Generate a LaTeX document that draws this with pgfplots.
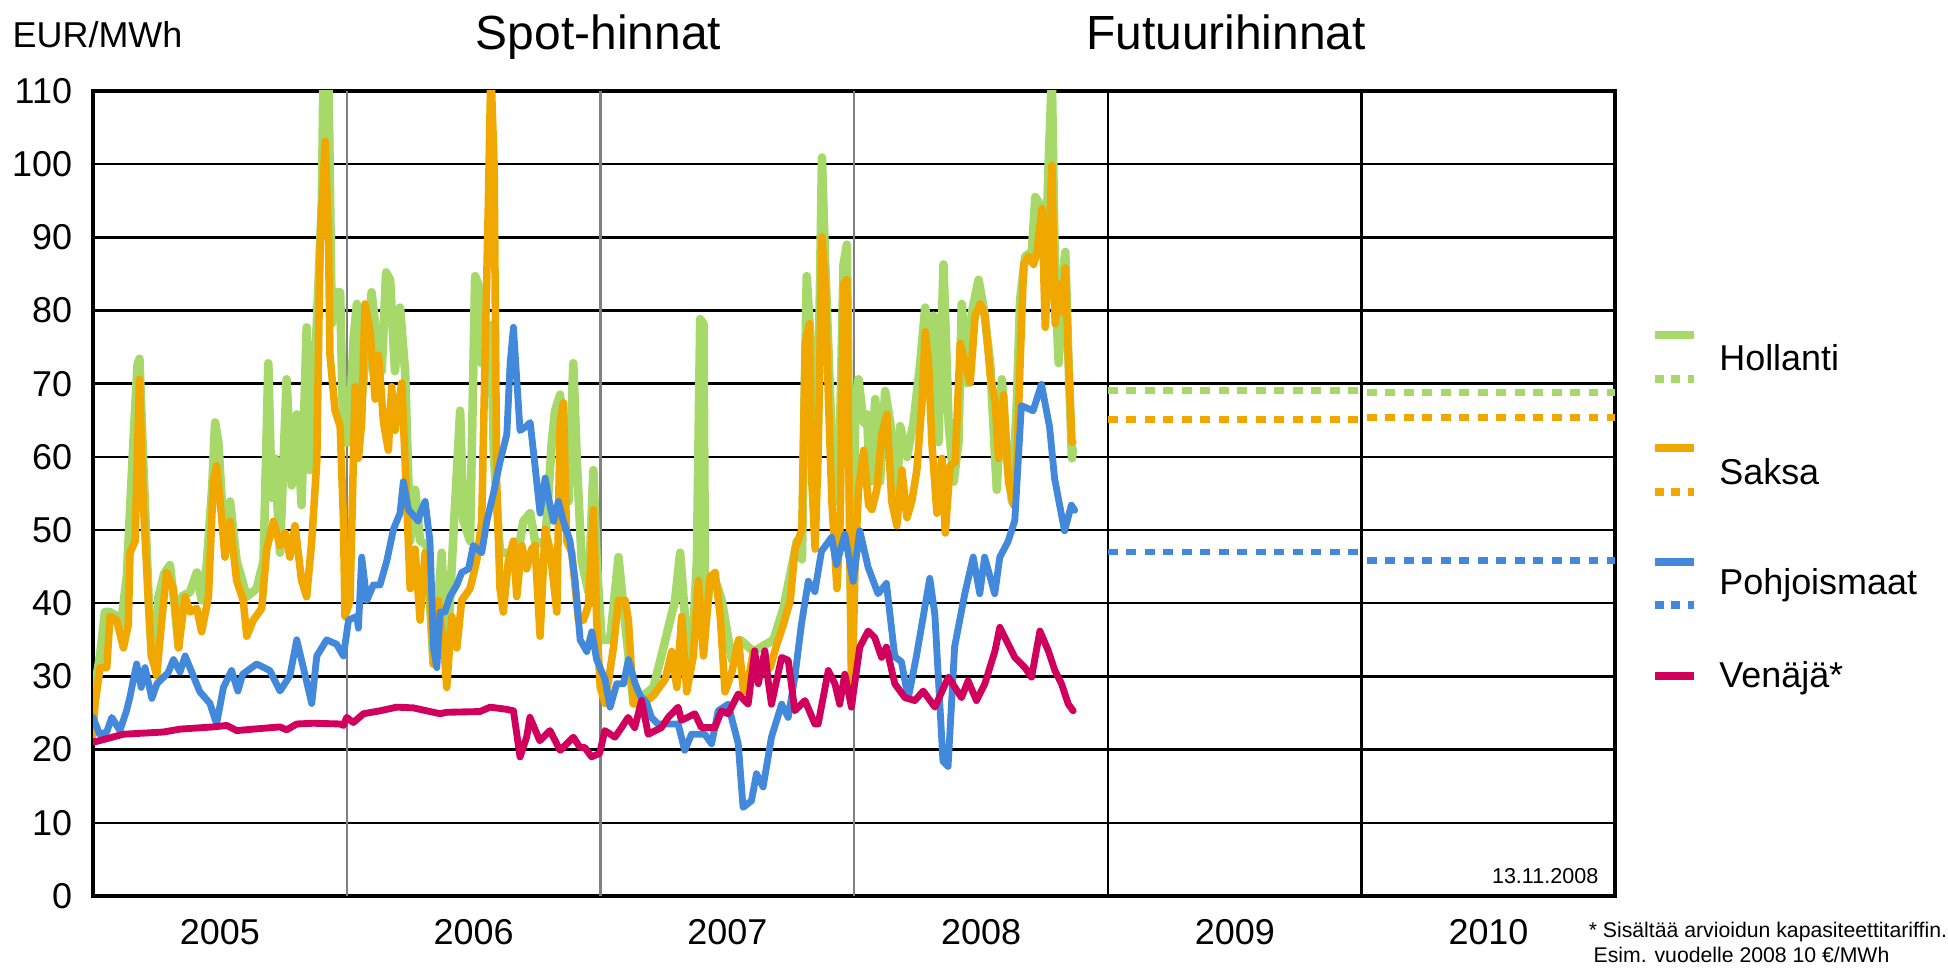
\documentclass[border=0pt]{standalone}
\usepackage{fontspec}
\setmainfont{Liberation Sans}
\usepackage{pgfplots}
\pgfplotsset{compat=1.18}

\definecolor{hol}{RGB}{166,217,106}
\definecolor{sak}{RGB}{240,168,0}
\definecolor{poh}{RGB}{66,137,220}
\definecolor{ven}{RGB}{208,0,92}
\definecolor{vgray}{RGB}{128,128,128}

\tikzset{spot/.style={line width=2pt, line join=round, line cap=round},
         fut/.style={line width=2pt, dash pattern=on 2.9pt off 2.5pt},
         legline/.style={line width=2.4pt},
         legdot/.style={line width=2.4pt, dash pattern=on 2.45pt off 2.25pt},
         legtxt/.style={anchor=base west, inner sep=0pt, font=\fontsize{10.5}{12}\selectfont}}

\begin{document}
\begin{tikzpicture}
\useasboundingbox (-0.955,-0.801) rectangle (19.045,9.199);
\begin{axis}[
    at={(0,0)}, anchor=south west, scale only axis,
    width=15.63cm, height=8.265cm,
    xmin=0, xmax=6, ymin=0, ymax=110,
    ytick={0,10,...,110},
    xtick={0.5,1.5,2.5,3.5,4.5,5.5},
    xticklabels={2005,2006,2007,2008,2009,2010},
    ymajorgrids,
    major grid style={black, line width=0.7pt},
    major tick length=0pt,
    axis line style={line width=1.2pt},
    tick label style={font=\fontsize{10.5}{12}\selectfont},
    /pgf/number format/assume math mode=true,
    xticklabel style={yshift=-3.2pt},
    yticklabel style={xshift=-2.6pt},
]
% year separators
\draw[vgray, line width=0.7pt] (axis cs:1,0) -- (axis cs:1,110);
\draw[vgray, line width=0.7pt] (axis cs:2,0) -- (axis cs:2,110);
\draw[vgray, line width=0.7pt] (axis cs:3,0) -- (axis cs:3,110);
\draw[black, line width=0.7pt] (axis cs:4,0) -- (axis cs:4,110);
\draw[black, line width=0.7pt] (axis cs:5,0) -- (axis cs:5,110);

% Hollanti spot
\addplot[hol, spot, line width=2.5pt] coordinates {
(0.000,24) (0.008,28.5) (0.028,33) (0.047,38.8) (0.067,38.8) (0.080,38.5) (0.100,38.2)
(0.110,37) (0.133,43.6) (0.159,62) (0.175,72.5) (0.183,73.4) (0.198,59.3) (0.220,40)
(0.231,32.8) (0.250,31) (0.258,40.9) (0.280,44) (0.303,45.2) (0.323,39.3) (0.337,34)
(0.353,41) (0.382,41.5) (0.409,44.2) (0.428,40.4) (0.448,45.2) (0.470,56) (0.481,64.7)
(0.494,62) (0.514,50.1) (0.540,53.9) (0.566,45.8) (0.606,40.9) (0.645,42) (0.672,45.8)
(0.691,72.8) (0.704,54.4) (0.717,59.8) (0.737,46.9) (0.763,70.6) (0.783,56.1) (0.803,65.8)
(0.822,53.4) (0.842,77.7) (0.855,58.2) (0.882,78.2) (0.902,95) (0.908,112) (0.928,112)
(0.941,78.2) (0.960,82.5) (0.974,82.5) (0.987,62) (1.007,62) (1.027,76.1) (1.040,80.9)
(1.053,65.2) (1.072,72.8) (1.098,82.5) (1.118,76.1) (1.138,71.7) (1.155,85.2) (1.171,84.2)
(1.190,71.7) (1.210,80.4) (1.230,71.7) (1.250,48.5) (1.270,55.5) (1.289,48.5) (1.315,48)
(1.342,31.7) (1.361,40.4) (1.374,46.9) (1.394,31.2) (1.414,45.2) (1.447,66.3) (1.460,51.2)
(1.486,48.5) (1.506,84.7) (1.519,83.6) (1.532,72.8) (1.545,73.4) (1.558,70) (1.568,78)
(1.580,60) (1.604,46.9) (1.631,46.9) (1.670,45.8) (1.696,51.2) (1.723,52.3) (1.742,48.5)
(1.782,48) (1.808,62) (1.821,66.3) (1.841,68.5) (1.854,56.6) (1.874,53.9) (1.893,72.8)
(1.907,59.3) (1.926,45.8) (1.953,41.5) (1.972,58.2) (1.985,45.8) (2.005,35) (2.038,35)
(2.071,46.3) (2.091,39.3) (2.130,26.3) (2.209,28.5) (2.248,33.9) (2.294,40.4) (2.314,46.9)
(2.334,37.7) (2.360,32.3) (2.380,45.8) (2.393,78.8) (2.406,78.2) (2.413,37.1) (2.432,43.1)
(2.459,42.5) (2.478,40.4) (2.518,32.3) (2.551,35) (2.603,33.4) (2.682,35) (2.721,39.3)
(2.774,48.5) (2.794,46) (2.813,84.7) (2.833,72.8) (2.853,56.6) (2.873,100.9) (2.886,86.3)
(2.912,62) (2.938,53.9) (2.958,86.3) (2.971,89) (2.984,51.2) (2.991,30) (3.004,67.4)
(3.017,70.6) (3.037,64.7) (3.050,65.8) (3.063,56.6) (3.083,67.9) (3.102,56.6) (3.122,69)
(3.142,64.7) (3.168,53.9) (3.181,64.2) (3.208,60) (3.234,64.7) (3.260,72.8) (3.280,80.4)
(3.300,72.8) (3.313,79.3) (3.332,62) (3.352,86.3) (3.372,64.7) (3.392,56.6) (3.411,62)
(3.424,80.9) (3.444,70.1) (3.464,79.8) (3.490,84.2) (3.510,80.4) (3.536,72.8) (3.562,55.5)
(3.582,70.6) (3.602,59.8) (3.622,53.9) (3.641,67.4) (3.654,81.5) (3.674,87.4) (3.700,88)
(3.714,95.5) (3.733,94.4) (3.753,85.2) (3.766,99.8) (3.779,112) (3.792,83.6) (3.806,72.8)
(3.819,83.6) (3.832,88) (3.845,72.8) (3.858,59.8) (3.862,61)
};

% Saksa spot
\addplot[sak, spot, line width=2.2pt] coordinates {
(0.000,22) (0.008,26.3) (0.028,31.2) (0.054,31.2) (0.067,38.2) (0.093,37.7) (0.120,33.9)
(0.139,37.1) (0.146,46.9) (0.166,48.5) (0.183,70.6) (0.198,53.9) (0.218,40.4) (0.231,32.8)
(0.251,30.1) (0.271,37.7) (0.290,44.2) (0.317,42) (0.337,33.9) (0.363,40.9) (0.382,38.8)
(0.409,39.3) (0.428,36.1) (0.455,40.9) (0.474,56.6) (0.487,58.8) (0.507,51.7) (0.520,46.3)
(0.540,51.2) (0.566,43.1) (0.592,40.4) (0.606,35.5) (0.632,37.7) (0.665,39.3) (0.685,47.4)
(0.711,51.2) (0.737,47.9) (0.757,49.6) (0.776,46.3) (0.796,50.6) (0.822,43.1) (0.842,40.9)
(0.862,48.5) (0.882,59.3) (0.895,89) (0.915,103.1) (0.928,90.1) (0.934,73.9) (0.954,66.3)
(0.974,64.2) (0.987,51.2) (0.993,38.2) (1.013,40.4) (1.033,69.6) (1.046,59.8) (1.059,64.7)
(1.072,80.9) (1.092,77.1) (1.112,67.9) (1.125,73.9) (1.145,64.7) (1.164,60.9) (1.177,69.6)
(1.190,63.6) (1.217,70.1) (1.230,59.3) (1.250,42) (1.269,47.4) (1.289,37.7) (1.309,46.9)
(1.328,41.5) (1.342,31.7) (1.361,40.4) (1.381,35) (1.394,28.5) (1.414,38.2) (1.434,33.9)
(1.453,40.4) (1.486,42) (1.512,45.8) (1.532,51.2) (1.545,73.4) (1.558,94.4) (1.568,113)
(1.581,99.8) (1.591,56.6) (1.604,42) (1.617,38.8) (1.637,45.8) (1.657,48.5) (1.670,40.9)
(1.690,47.9) (1.709,44.7) (1.729,47.4) (1.742,47.9) (1.762,35.5) (1.782,50.1) (1.801,47.4)
(1.828,38.8) (1.841,64.7) (1.854,67.4) (1.867,48.5) (1.887,46.9) (1.913,37.7) (1.933,37.7)
(1.953,39.8) (1.972,52.8) (1.985,37.7) (1.999,28.5) (2.018,26.3) (2.051,33.9) (2.071,40.4)
(2.097,40.4) (2.110,37.7) (2.130,26.3) (2.169,26.3) (2.209,27.4) (2.255,29.6) (2.281,33.4)
(2.301,28.5) (2.320,38.2) (2.340,27.9) (2.366,32.8) (2.386,43.1) (2.406,32.8) (2.432,43.6)
(2.452,44.2) (2.472,38.2) (2.491,27.9) (2.518,30.6) (2.544,35) (2.564,27.9) (2.583,29.6)
(2.603,33.4) (2.629,30.6) (2.669,31.2) (2.695,34.4) (2.721,37.1) (2.748,40.4) (2.767,47.4)
(2.794,50.1) (2.807,75.5) (2.824,78.2) (2.833,56.6) (2.846,47.4) (2.859,62) (2.873,90.1)
(2.886,83.6) (2.899,67.4) (2.912,53.9) (2.932,42) (2.945,51.2) (2.958,83.6) (2.971,84.2)
(2.984,43.1) (2.991,26.3) (3.004,45.8) (3.017,55.5) (3.037,60.9) (3.057,53.4) (3.070,52.8)
(3.089,55.5) (3.109,63.1) (3.129,65.8) (3.148,53.9) (3.168,50.6) (3.188,58.2) (3.208,51.7)
(3.227,53.9) (3.247,58.2) (3.267,67.4) (3.280,77.1) (3.293,72.8) (3.306,62) (3.326,52.3)
(3.346,59.8) (3.359,49.6) (3.378,58.8) (3.398,59.3) (3.418,75.5) (3.438,72.8) (3.457,70.1)
(3.477,79.3) (3.497,80.9) (3.516,79.3) (3.536,71.2) (3.556,67.4) (3.569,59.8) (3.589,68.5)
(3.608,56.6) (3.628,53.4) (3.641,59.3) (3.654,72.8) (3.668,86.3) (3.687,87.4) (3.707,86.3)
(3.720,87.9) (3.740,93.9) (3.753,77.7) (3.766,86.3) (3.779,99.8) (3.792,78.2) (3.806,83.6)
(3.819,79.8) (3.832,85.8) (3.845,72.8) (3.858,62) (3.862,62)
};

% Pohjoismaat spot
\addplot[poh, spot] coordinates {
(0.000,24.4) (0.026,22.1) (0.054,22.4) (0.074,24.4) (0.106,22.6) (0.132,25.3) (0.145,27.1)
(0.172,31.7) (0.190,28.5) (0.205,31.2) (0.232,27) (0.252,29) (0.296,30.5) (0.317,32.3)
(0.343,30.6) (0.363,32.8) (0.382,31.2) (0.421,27.9) (0.461,26.3) (0.487,23.5) (0.514,28.5)
(0.546,30.8) (0.571,28) (0.590,30.3) (0.645,31.7) (0.697,30.8) (0.737,28) (0.776,30.1)
(0.803,35) (0.829,31.2) (0.862,26.3) (0.882,32.8) (0.921,35) (0.960,34.4) (0.987,32.8)
(1.007,37.7) (1.040,38.2) (1.046,36.6) (1.059,46.3) (1.079,40.4) (1.105,42.5) (1.131,42.5)
(1.158,45.8) (1.184,50.1) (1.210,52.3) (1.223,56.6) (1.243,52.8) (1.282,51.2) (1.289,52.3)
(1.309,53.9) (1.328,48.5) (1.342,33.9) (1.355,31.2) (1.368,38.8) (1.387,38.8) (1.407,40.9)
(1.434,42.5) (1.453,44.2) (1.480,44.7) (1.499,47.9) (1.532,46.9) (1.552,51.2) (1.578,55)
(1.604,59.3) (1.631,63.1) (1.644,72.8) (1.657,77.7) (1.670,70.6) (1.683,63.6) (1.709,64.2)
(1.723,64.7) (1.742,58.8) (1.762,52.3) (1.782,57.1) (1.801,53.4) (1.815,51.2) (1.834,53.9)
(1.854,51.2) (1.880,48.5) (1.900,43.1) (1.920,35) (1.946,33.4) (1.966,36.1) (1.985,32.3)
(2.018,29.6) (2.038,25.8) (2.064,29) (2.091,29) (2.110,32.3) (2.137,29) (2.156,27.4)
(2.183,26.3) (2.201,24.4) (2.227,23.5) (2.306,23.5) (2.332,19.9) (2.359,22.1) (2.411,22.1)
(2.438,20.8) (2.464,25.3) (2.503,26.2) (2.543,20.8) (2.562,12.1) (2.595,13) (2.615,16.7)
(2.641,14.9) (2.674,21.7) (2.714,26.2) (2.740,24.4) (2.766,29.9) (2.792,37.1) (2.819,43)
(2.845,41.6) (2.871,47.1) (2.911,49) (2.930,45.3) (2.963,49.4) (2.996,43) (3.022,49.9)
(3.055,44.9) (3.094,41.3) (3.127,42.7) (3.160,32.7) (3.186,32) (3.213,27) (3.245,32.7)
(3.298,43.4) (3.318,38.4) (3.350,18.4) (3.370,17.7) (3.396,34.1) (3.436,41.3) (3.469,46.3)
(3.495,41.3) (3.514,46.3) (3.554,41.3) (3.574,46.3) (3.606,48.4) (3.633,51.3) (3.659,67)
(3.705,66.3) (3.738,69.9) (3.770,64.1) (3.790,57) (3.829,49.9) (3.856,53.4) (3.869,52.7)
};

% Venaja spot
\addplot[ven, spot] coordinates {
(0.001,21) (0.120,22.1) (0.277,22.4) (0.343,22.8) (0.474,23.1) (0.527,23.3) (0.566,22.6)
(0.632,22.8) (0.737,23.1) (0.763,22.7) (0.803,23.5) (0.868,23.6) (0.974,23.5) (0.987,23.3)
(1.000,24.4) (1.026,23.7) (1.066,24.9) (1.131,25.3) (1.197,25.8) (1.263,25.7) (1.315,25.3)
(1.368,24.9) (1.394,25.1) (1.525,25.2) (1.565,25.8) (1.631,25.5) (1.657,25.3) (1.683,19)
(1.709,21.7) (1.722,24.4) (1.761,21.2) (1.801,22.6) (1.841,19.9) (1.893,21.7) (1.919,20.3)
(1.938,20.3) (1.965,19) (1.997,19.5) (2.017,22.6) (2.057,21.7) (2.083,23) (2.109,24.4)
(2.135,23) (2.162,26.7) (2.188,22.1) (2.240,23) (2.267,24.4) (2.306,25.8) (2.319,24)
(2.372,24.9) (2.398,23) (2.451,23) (2.477,25.3) (2.503,24.9) (2.543,27.6) (2.582,26.2)
(2.608,33.5) (2.622,29) (2.648,33.5) (2.661,29.4) (2.674,26.2) (2.714,32.6) (2.740,32.2)
(2.766,25.3) (2.806,26.7) (2.845,23.5) (2.858,23.5) (2.898,30.8) (2.924,29) (2.943,26.2)
(2.963,30.3) (2.989,25.8) (3.022,34) (3.055,36.2) (3.081,35.3) (3.108,32.6) (3.127,34)
(3.160,29) (3.200,27.1) (3.239,26.7) (3.272,28) (3.318,25.8) (3.371,29.9) (3.423,27.1)
(3.449,29.4) (3.482,26.7) (3.515,29) (3.555,33.5) (3.574,36.7) (3.607,34.4) (3.633,32.6)
(3.673,31.2) (3.699,29.9) (3.732,36.2) (3.765,33.5) (3.791,30.8) (3.817,29) (3.844,26.2)
(3.863,25.3)
};

% futures
\addplot[hol, fut] coordinates {(4,69.1) (5,69.1)};
\addplot[hol, fut] coordinates {(5.02,68.8) (6,68.8)};
\addplot[sak, fut] coordinates {(4,65.1) (5,65.1)};
\addplot[sak, fut] coordinates {(5.02,65.4) (6,65.4)};
\addplot[poh, fut] coordinates {(4,47) (5,47)};
\addplot[poh, fut] coordinates {(5.02,45.8) (6,45.8)};
\end{axis}

\node[anchor=base west, inner sep=0pt, font=\fontsize{10.5}{12}\selectfont] at (-0.832,8.706) {EUR/MWh};
\node[anchor=base, inner sep=0pt, font=\fontsize{14}{16}\selectfont] at (5.19,8.686) {Spot-hinnat};
\node[anchor=base, inner sep=0pt, font=\fontsize{14}{16}\selectfont] at (11.632,8.686) {Futuurihinnat};

% legend
\draw[hol, legline] (16.04,5.760) -- (16.44,5.760);
\draw[hol, legdot] (16.04,5.308) -- (16.44,5.308);
\node[legtxt] at (16.69,5.39) {Hollanti};
\draw[sak, legline] (16.04,4.600) -- (16.44,4.600);
\draw[sak, legdot] (16.04,4.148) -- (16.44,4.148);
\node[legtxt] at (16.69,4.22) {Saksa};
\draw[poh, legline] (16.04,3.429) -- (16.44,3.429);
\draw[poh, legdot] (16.04,2.988) -- (16.44,2.988);
\node[legtxt] at (16.69,3.09) {Pohjoismaat};
\draw[ven, legline] (16.04,2.259) -- (16.44,2.259);
\node[legtxt] at (16.69,2.14) {Venäjä*};

\node[anchor=base east, inner sep=0pt, font=\fontsize{6.3}{7}\selectfont] at (15.462,0.133) {13.11.2008};
\node[anchor=base west, inner sep=0pt, font=\fontsize{6.2}{7}\selectfont] at (15.35,-0.431) {* Sisältää arvioidun kapasiteettitariffin.};
\node[anchor=base west, inner sep=0pt, font=\fontsize{6.2}{7}\selectfont] at (15.40,-0.688) {Esim. vuodelle 2008 10 €/MWh};
\end{tikzpicture}
\end{document}
